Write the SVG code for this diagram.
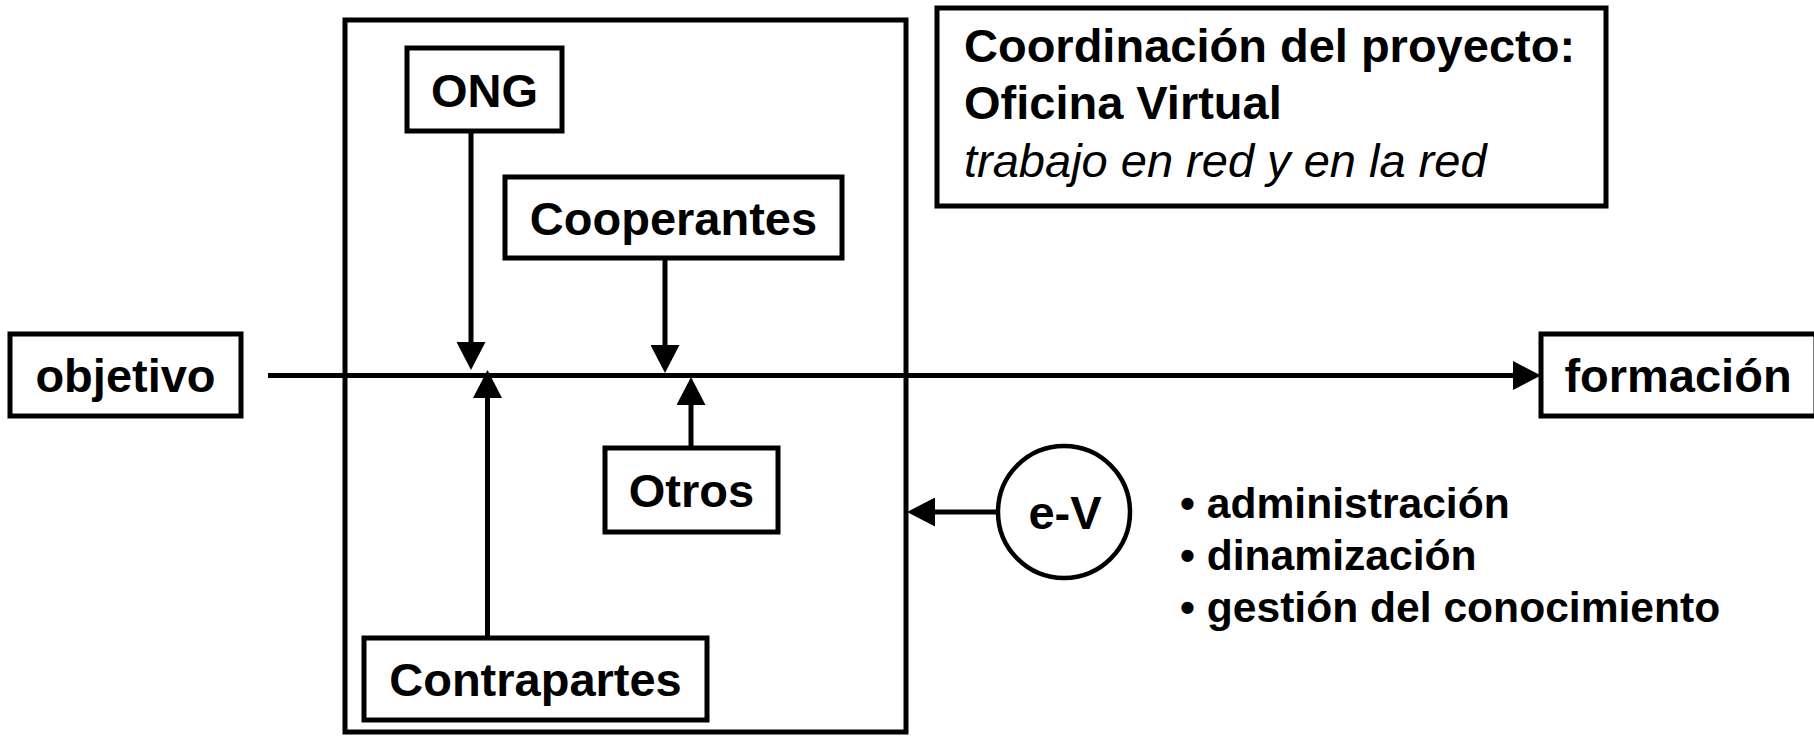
<svg xmlns="http://www.w3.org/2000/svg" width="1814" height="737" viewBox="0 0 1814 737">
<defs>
<style>
.box{fill:#fff;stroke:#000;stroke-width:5}
.t{font-family:"Liberation Sans",Arial,sans-serif;font-weight:bold;font-size:47px;fill:#000}
.it{font-family:"Liberation Sans",Arial,sans-serif;font-style:italic;font-size:47px;fill:#000}
.li{font-family:"Liberation Sans",Arial,sans-serif;font-weight:bold;font-size:42.6px;fill:#000}
.ln{stroke:#000;stroke-width:5;fill:none}
</style>
<marker id="arr" markerUnits="userSpaceOnUse" markerWidth="28" markerHeight="29" refX="18" refY="14.5" orient="auto">
<path d="M0,0 L28,14.5 L0,29 z" fill="#000"/>
</marker>
</defs>
<rect width="1814" height="737" fill="#fff"/>
<g id="container">
<rect class="box" x="345" y="20" width="561" height="712" fill="none"/>
</g>
<g id="coordinacion">
<rect class="box" x="937" y="8" width="669" height="198"/>
<text class="t" x="964" y="62">Coordinación del proyecto:</text>
<text class="t" x="964" y="119">Oficina Virtual</text>
<text class="it" x="964" y="177">trabajo en red y en la red</text>
</g>
<g id="ong">
<rect class="box" x="407" y="48" width="155" height="83"/>
<text class="t" x="484.5" y="107" text-anchor="middle">ONG</text>
</g>
<g id="cooperantes">
<rect class="box" x="505" y="177" width="337" height="81"/>
<text class="t" x="673.5" y="235" text-anchor="middle">Cooperantes</text>
</g>
<g id="objetivo">
<rect class="box" x="10" y="334" width="231" height="82"/>
<text class="t" x="125.5" y="392" text-anchor="middle">objetivo</text>
</g>
<g id="formacion">
<rect class="box" x="1541" y="334" width="275" height="82"/>
<text class="t" x="1678" y="392" text-anchor="middle">formación</text>
</g>
<g id="otros">
<rect class="box" x="605" y="448" width="173" height="84"/>
<text class="t" x="691.5" y="507" text-anchor="middle">Otros</text>
</g>
<g id="contrapartes">
<rect class="box" x="364" y="638" width="343" height="82"/>
<text class="t" x="535.5" y="696" text-anchor="middle">Contrapartes</text>
</g>
<g id="ev">
<circle cx="1064" cy="512" r="66" fill="#fff" stroke="#000" stroke-width="4.5"/>
<text class="t" x="1065" y="529" text-anchor="middle">e-V</text>
</g>
<g id="lista">
<text class="li" x="1180" y="518">• administración</text>
<text class="li" x="1180" y="570">• dinamización</text>
<text class="li" x="1180" y="622">• gestión del conocimiento</text>
</g>
<g id="connectors">
<line class="ln" x1="268" y1="375.5" x2="1531" y2="375.5" marker-end="url(#arr)"/>
<line class="ln" x1="471" y1="131" x2="471" y2="360" marker-end="url(#arr)"/>
<line class="ln" x1="665" y1="258" x2="665" y2="363" marker-end="url(#arr)"/>
<line class="ln" x1="487.5" y1="638" x2="487.5" y2="380" marker-end="url(#arr)"/>
<line class="ln" x1="691" y1="448" x2="691" y2="387" marker-end="url(#arr)"/>
<line class="ln" x1="998" y1="512" x2="917" y2="512" marker-end="url(#arr)"/>
</g>
</svg>
